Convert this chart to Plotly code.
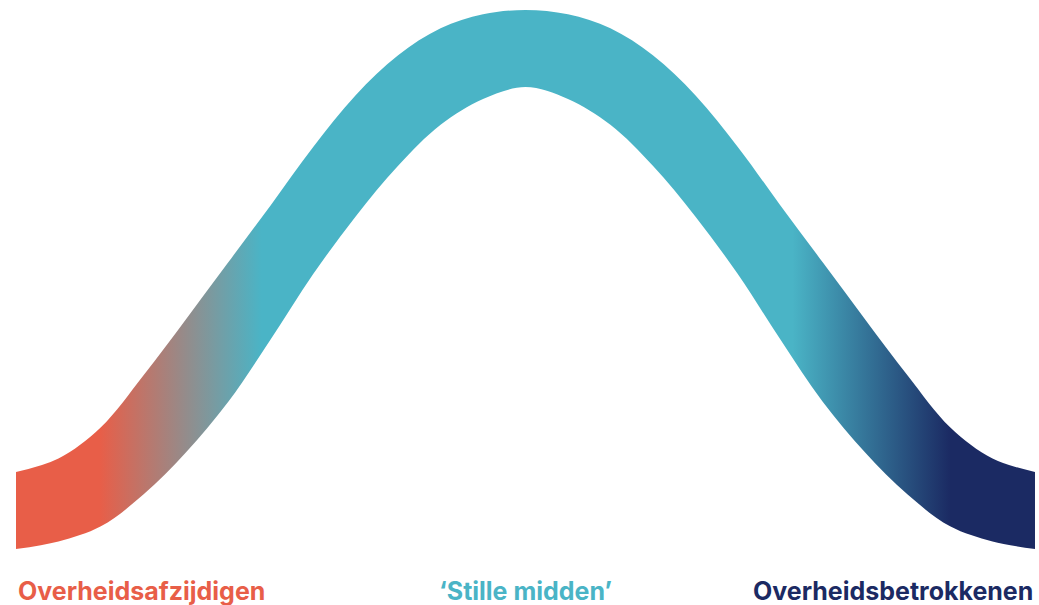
import plotly.graph_objects as go

# Bell curve band.
# x: position on the spectrum (-3 = left end, 3 = right end)
# y: height (0 = bottom of the band at the ends, 100 = top of the band at the peak)
x_pos = [-3.00, -2.75, -2.50, -2.25, -2.00, -1.75, -1.50, -1.25, -1.00, -0.75, -0.50, -0.25,
         0.00, 0.25, 0.50, 0.75, 1.00, 1.25, 1.50, 1.75, 2.00, 2.25, 2.50, 2.75, 3.00]
y_upper = [14.3, 16.8, 22.6, 32.2, 42.6, 53.2, 63.8, 74.6, 84.2, 91.6, 96.6, 99.2,
           100.0, 99.2, 96.6, 91.6, 84.2, 74.6, 63.8, 53.2, 42.6, 32.2, 22.6, 16.8, 14.3]
y_lower = [0.0, 1.4, 4.2, 10.1, 17.9, 27.3, 38.9, 51.0, 61.7, 71.1, 78.7, 83.5,
           85.7, 83.5, 78.7, 71.1, 61.7, 51.0, 38.9, 27.3, 17.9, 10.1, 4.2, 1.4, 0.0]

labels = ["Overheidsafzijdigen", "\u2018Stille midden\u2019", "Overheidsbetrokkenen"]
label_x = [-3.0, 0.0, 3.0]
label_anchor = ["left", "center", "right"]

ORANGE = "#E85E48"
TEAL = "#4AB4C6"
NAVY = "#1B2A63"
label_colors = [ORANGE, TEAL, NAVY]

gradient = [
    [0.0, ORANGE],
    [0.082, ORANGE],
    [0.241, TEAL],
    [0.762, TEAL],
    [0.917, NAVY],
    [1.0, NAVY],
]

fig = go.Figure()
fig.add_trace(go.Scatter(
    x=x_pos, y=y_lower, mode="lines",
    line=dict(width=0, shape="spline", smoothing=1.0, color=TEAL),
    hoverinfo="skip", showlegend=False,
))
fig.add_trace(go.Scatter(
    x=x_pos, y=y_upper, mode="lines",
    line=dict(width=0, shape="spline", smoothing=1.0, color=TEAL),
    fill="tonexty", fillcolor=TEAL,
    fillgradient=dict(type="horizontal", colorscale=gradient, start=-3, stop=3),
    hoverinfo="skip", showlegend=False,
))

for txt, xx, anc, col in zip(labels, label_x, label_anchor, label_colors):
    fig.add_annotation(
        x=xx, y=-7.8, xref="x", yref="y", text=txt, showarrow=False,
        xanchor=anc, yanchor="middle",
        font=dict(family="Inter, Roboto, sans-serif", size=25, color=col, weight="bold"),
    )

fig.update_layout(
    width=1039, height=605,
    margin=dict(l=0, r=0, t=0, b=0),
    paper_bgcolor="white", plot_bgcolor="white",
    xaxis=dict(range=[-3.0942, 3.0236], visible=False, fixedrange=True),
    yaxis=dict(range=[-10.39, 101.86], visible=False, fixedrange=True),
    hovermode=False,
)

fig.write_html(
    "out.html",
    config={"displayModeBar": False},
    post_script="document.body.style.margin='0';document.body.style.padding='0';document.body.style.overflow='hidden';",
)
